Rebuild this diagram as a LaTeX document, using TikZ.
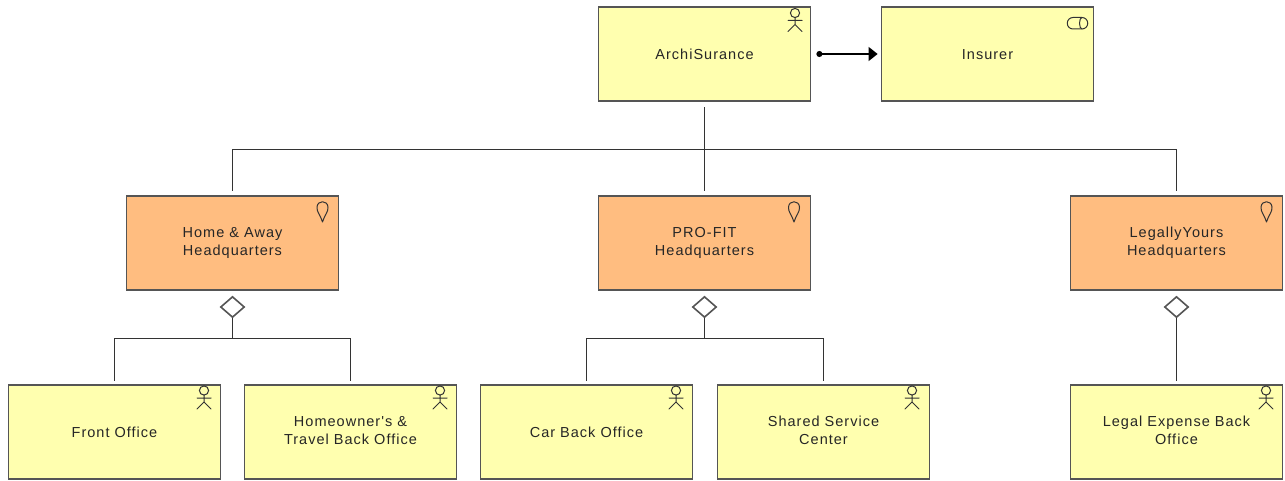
\documentclass[tikz,border=0pt]{standalone}
\usepackage{fontspec}
\newfontfamily\labelfont[LetterSpace=7]{Liberation Sans}
\usetikzlibrary{shapes.geometric,arrows.meta}
\definecolor{bizyellow}{HTML}{FFFFAF}
\definecolor{locorange}{HTML}{FFBD80}
\definecolor{edgegray}{HTML}{555555}
\definecolor{wiregray}{HTML}{333333}
\newcommand{\linestrut}{\rule[-3.4pt]{0pt}{18pt}}
\tikzset{
  box/.style={draw=edgegray,line width=1.8pt,minimum width=212pt,minimum height=94.5pt,inner sep=0pt,align=center,font=\labelfont\fontsize{14.5}{18}\selectfont,text=black!85,execute at begin node=\linestrut,execute at end node=\linestrut},
  actorbox/.style={box,fill=bizyellow},
  locbox/.style={box,fill=locorange},
  wire/.style={draw=wiregray,line width=1.7pt},
  agg/.style={diamond,aspect=1.15,draw=edgegray,line width=1.6pt,fill=white,inner sep=0pt,minimum width=24pt,minimum height=21pt},
  icon/.style={draw=black!80,line width=1pt,line cap=round,line join=round}
}
\newcommand{\actoricon}[1]{%
  \begin{scope}[shift={(#1)},icon]
    \draw (0,-5.5) circle (4.6pt);
    \draw (0,-1) -- (0,6) (-7,2) -- (7,2) (-7,13) -- (0,6) -- (7,13);
  \end{scope}}
\newcommand{\locicon}[1]{%
  \begin{scope}[shift={(#1)},icon]
    \draw (0,11) .. controls (-2,4) and (-6,1) .. (-5.5,-4) .. controls (-5,-11) and (5,-11) .. (5.5,-4) .. controls (6,1) and (2,4) .. (0,11) -- cycle;
  \end{scope}}
\begin{document}
\begin{tikzpicture}[x=1pt,y=-1pt]
\useasboundingbox[fill=white] (0,0) rectangle (1285,481);
% top row
\node[actorbox] (root) at (704.5,54) {ArchiSurance};
\node[actorbox] (ins) at (987.5,54) {Insurer};
% headquarters
\node[locbox] (hq1) at (232.5,243) {Home \& Away\\Headquarters};
\node[locbox] (hq2) at (704.5,243) {PRO-FIT\\Headquarters};
\node[locbox] (hq3) at (1176.5,243) {LegallyYours\\Headquarters};
% offices
\node[actorbox] (o1) at (114.5,432) {Front Office};
\node[actorbox] (o2) at (350.5,432) {Homeowner's \&\\Travel Back Office};
\node[actorbox] (o3) at (586.5,432) {Car Back Office};
\node[actorbox] (o4) at (823.5,432) {Shared Service\\Center};
\node[actorbox] (o5) at (1176.5,432) {Legal Expense Back\\Office};
% aggregation diamonds
\node[agg] (d1) at (232.5,307) {};
\node[agg] (d2) at (704.5,307) {};
\node[agg] (d3) at (1176.5,307) {};
% junctions
\coordinate (j0) at (704.5,149.5);
\coordinate (j1) at (232.5,338.5);
\coordinate (j2) at (704.5,338.5);
% connectors
\draw[wire,shorten <=5pt] (root.south) -- (j0);
\draw[wire,shorten >=4pt] (j0) -- (hq2.north);
\draw[wire,shorten >=4pt] (j0) -| (hq1.north);
\draw[wire,shorten >=4pt] (j0) -| (hq3.north);
\draw[wire] (d1.south) -- (j1);
\draw[wire,shorten >=3pt] (j1) -| (o1.north);
\draw[wire,shorten >=3pt] (j1) -| (o2.north);
\draw[wire] (d2.south) -- (j2);
\draw[wire,shorten >=3pt] (j2) -| (o3.north);
\draw[wire,shorten >=3pt] (j2) -| (o4.north);
\draw[wire,shorten >=3pt] (d3.south) -- (o5.north);
% assignment
\draw[draw=black,line width=1.3pt,{Circle[length=6pt,width=6pt]}-{Triangle[length=9pt,width=14pt]},shorten <=5pt,shorten >=3pt] (root.east) -- (ins.west);
% icons
\actoricon{795,18.5}
\actoricon{204,396}
\actoricon{440,396}
\actoricon{676,396}
\actoricon{912,396}
\actoricon{1266,396}
\locicon{322.5,211}
\locicon{794,211}
\locicon{1266.5,211}
\begin{scope}[icon]
  \draw (1073,17.5) -- (1082,17.5) arc (90:-90:5.75pt) -- (1073,29) arc (270:90:5.75pt) -- cycle;
  \draw (1082,17.5) arc[start angle=90,end angle=270,x radius=2.5pt,y radius=5.75pt];
\end{scope}
\end{tikzpicture}
\end{document}
